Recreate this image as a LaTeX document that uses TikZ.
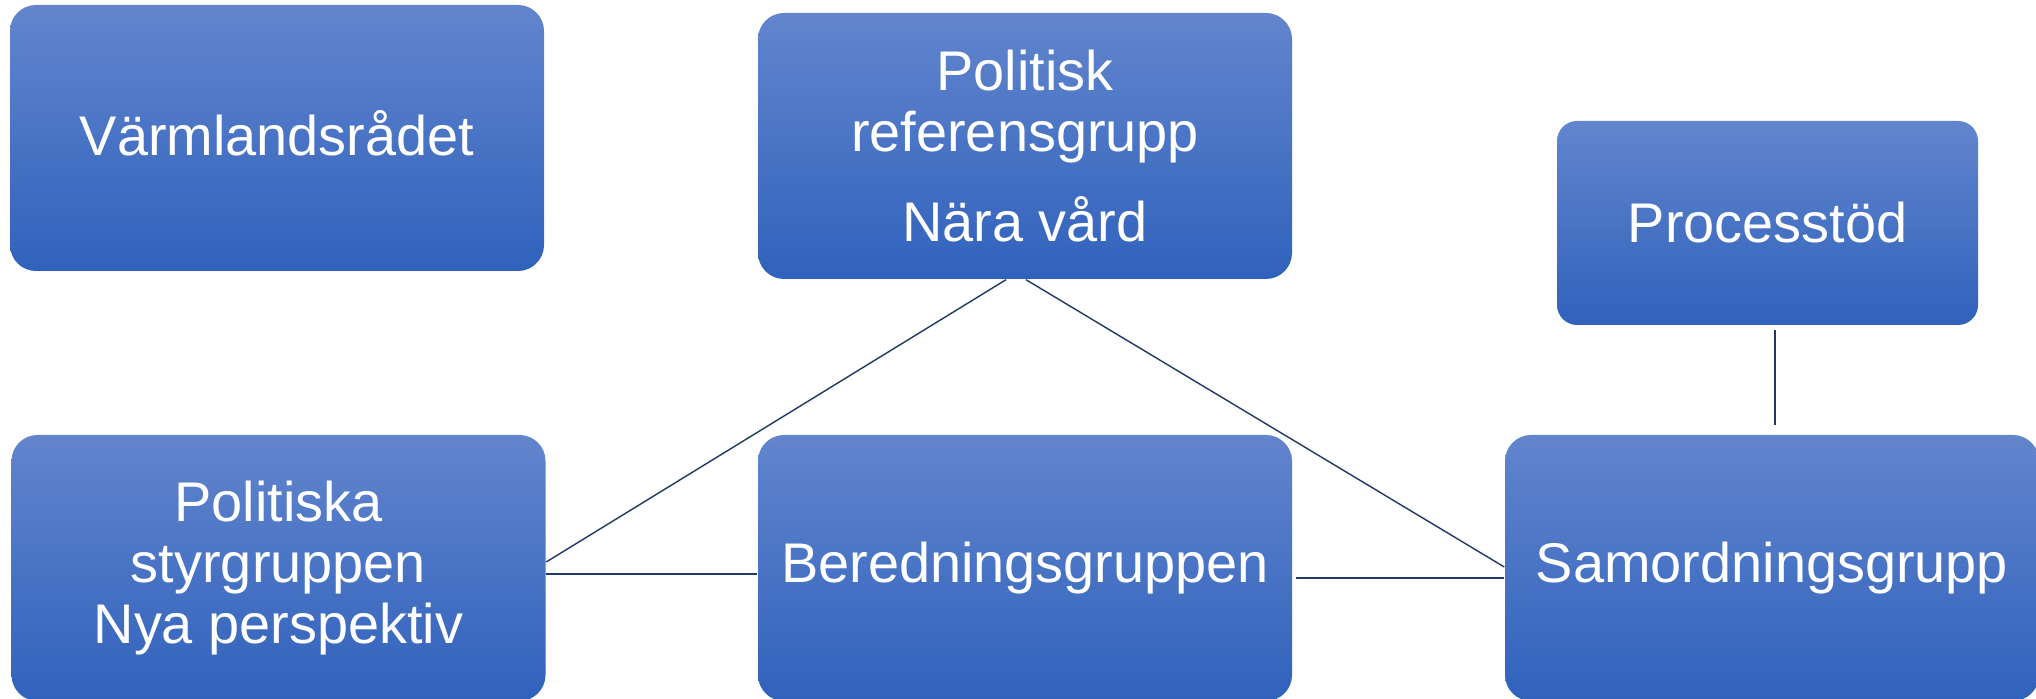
\documentclass[tikz,border=0pt]{standalone}
\usepackage{fontspec}
\setmainfont{Liberation Sans}
\usepackage{tikz}
\usetikzlibrary{positioning, calc}
\usepackage{xcolor}
\definecolor{boxtop}{RGB}{98,133,205}
\definecolor{boxmid}{RGB}{72,117,202}
\definecolor{boxbot}{RGB}{48,98,188}
\definecolor{linkcol}{RGB}{31,56,100}

\begin{document}
\begin{tikzpicture}[
	grupp/.style={rounded corners=0.26cm, top color=boxtop, middle color=boxmid, bottom color=boxbot,
		text=white, align=center, inner sep=0pt, minimum width=5.34cm, minimum height=2.66cm,
		font=\fontsize{15.9}{17.4}\selectfont},
	smallgrupp/.style={grupp, rounded corners=0.2cm, minimum width=4.21cm, minimum height=2.04cm},
	link/.style={linkcol, line width=0.4pt}
	]
				\useasboundingbox (0,0) rectangle (20.36,6.99);
				\node[grupp, text depth=0.1cm] (varm) at (2.77,5.61) {Värmlandsrådet};
				\node[grupp] (ref) at (10.25,5.53) {Politisk\\referensgrupp\\[0.28cm]Nära vård};
				\node[smallgrupp] (proc) at (17.675,4.76) {Processtöd};
				\node[grupp] (styr) at (2.785,1.31) {Politiska\\styrgruppen\\Nya perspektiv};
				\node[grupp] (bered) at (10.25,1.31) {Beredningsgruppen};
				\node[grupp] (samord) at (17.72,1.31) {Samordningsgrupp};
				\draw[link] ([xshift=-0.19cm]ref.south) -- ([yshift=0.06cm]styr.east);
				\draw[link] ([xshift=0.01cm]ref.south) -- ([yshift=0.01cm]samord.west);
				\draw[link] ([yshift=-0.06cm]styr.east) -- ([yshift=-0.06cm]bered.west);
				\draw[link, shorten <=0.03cm] ([yshift=-0.1cm]bered.east) -- ([yshift=-0.1cm]samord.west);
				\draw[link, shorten <=0.04cm, shorten >=0.09cm] ([xshift=0.03cm]samord.north |- proc.south) -- ([xshift=0.03cm]samord.north);
\end{tikzpicture}
\end{document}
